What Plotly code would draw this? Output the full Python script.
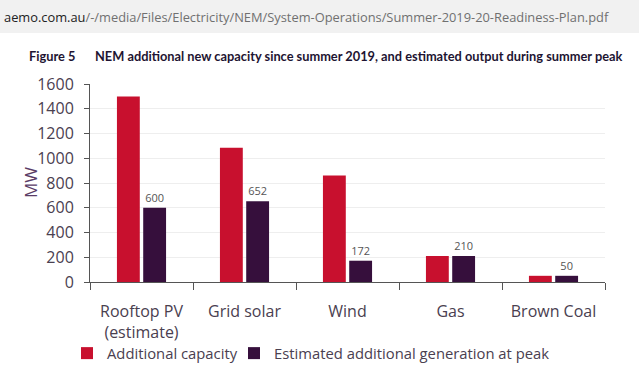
import plotly.graph_objects as go

categories = ["Rooftop PV<br>(estimate)", "Grid solar", "Wind", "Gas", "Brown Coal"]
additional_capacity = [1500, 1085, 860, 210, 50]
estimated_generation = [600, 652, 172, 210, 50]
gen_labels = ["600", "652", "172", "210", "50"]
y_ticks = [0, 200, 400, 600, 800, 1000, 1200, 1400, 1600]

RED = "#C8102E"
PURPLE = "#360F3C"
TXT = "#4a4050"

fig = go.Figure()
fig.add_trace(go.Bar(
    x=categories, y=additional_capacity, name="Additional capacity",
    marker=dict(color=RED, line=dict(width=0)), legend="legend",
))
fig.add_trace(go.Bar(
    x=categories, y=estimated_generation, name="Estimated additional generation at peak",
    marker=dict(color=PURPLE, line=dict(width=0)), legend="legend2",
    text=gen_labels, textposition="outside", cliponaxis=False,
    textfont=dict(size=11, color="#555555", family="Open Sans"),
))

L, R, T, B = 90, 34, 84, 94
W, H = 639, 376
pw, ph = W - L - R, H - T - B

def px(x):
    return (x - L) / pw

def py(y):
    return (H - B - y) / ph

legend_common = dict(orientation="h", yanchor="top", xanchor="left",
                     font=dict(size=14.8, color=TXT), bgcolor="rgba(0,0,0,0)",
                     itemsizing="constant")

fig.update_layout(
    width=W, height=H,
    margin=dict(l=L, r=R, t=T, b=B, pad=0, autoexpand=False),
    paper_bgcolor="white", plot_bgcolor="white",
    barmode="group", bargap=0.49, bargroupgap=0.13,
    font=dict(family="Open Sans", color=TXT, size=15),
    showlegend=True,
    legend=dict(x=px(67), y=py(337), **legend_common),
    legend2=dict(x=px(234), y=py(337), **legend_common),
    xaxis=dict(
        showline=True, linecolor="#555555", linewidth=1,
        ticks="outside", ticklen=7, tickcolor="#555555", tickson="boundaries",
        tickfont=dict(size=16, color=TXT), showgrid=False, automargin=False,
        ticklabelstandoff=15,
    ),
    yaxis=dict(
        range=[0, 1600], tickvals=y_ticks,
        showline=True, linecolor="#555555", linewidth=1,
        ticks="outside", ticklen=5, tickcolor="#555555",
        tickfont=dict(size=16, color=TXT), automargin=False,
        showgrid=True, gridcolor="#eeeeee", gridwidth=1, zeroline=False,
        ticklabelstandoff=7,
    ),
    shapes=[dict(type="rect", xref="paper", yref="paper",
                 x0=px(0), x1=px(W), y0=py(33), y1=py(0),
                 fillcolor="#f1f1f1", line=dict(width=0), layer="below")],
    annotations=[
        dict(xref="paper", yref="paper", x=px(2), y=py(17), xanchor="left", yanchor="middle",
             showarrow=False,
             text="<span style='color:#222222'>aemo.com.au</span>/-/media/Files/Electricity/NEM/System-Operations/Summer-2019-20-Readiness-Plan.pdf",
             font=dict(size=12.85, color="#707070", family="Open Sans")),
        dict(xref="paper", yref="paper", x=px(27), y=py(56), xanchor="left", yanchor="middle",
             showarrow=False, text="<b>Figure 5</b>",
             font=dict(size=12.8, color="#1e1432", family="Lato")),
        dict(xref="paper", yref="paper", x=px(93), y=py(56), xanchor="left", yanchor="middle",
             showarrow=False,
             text="<b>NEM additional new capacity since summer 2019, and estimated output during summer peak</b>",
             font=dict(size=12.8, color="#1e1432", family="Lato")),
        dict(xref="paper", yref="paper", x=px(30), y=py(183), xanchor="center", yanchor="middle",
             showarrow=False, text="MW", textangle=-90,
             font=dict(size=17, color="#5a3c66", family="Open Sans")),
    ],
)

fig.write_html("out.html", post_script="document.body.style.margin='0';",
               config={"displayModeBar": False})
